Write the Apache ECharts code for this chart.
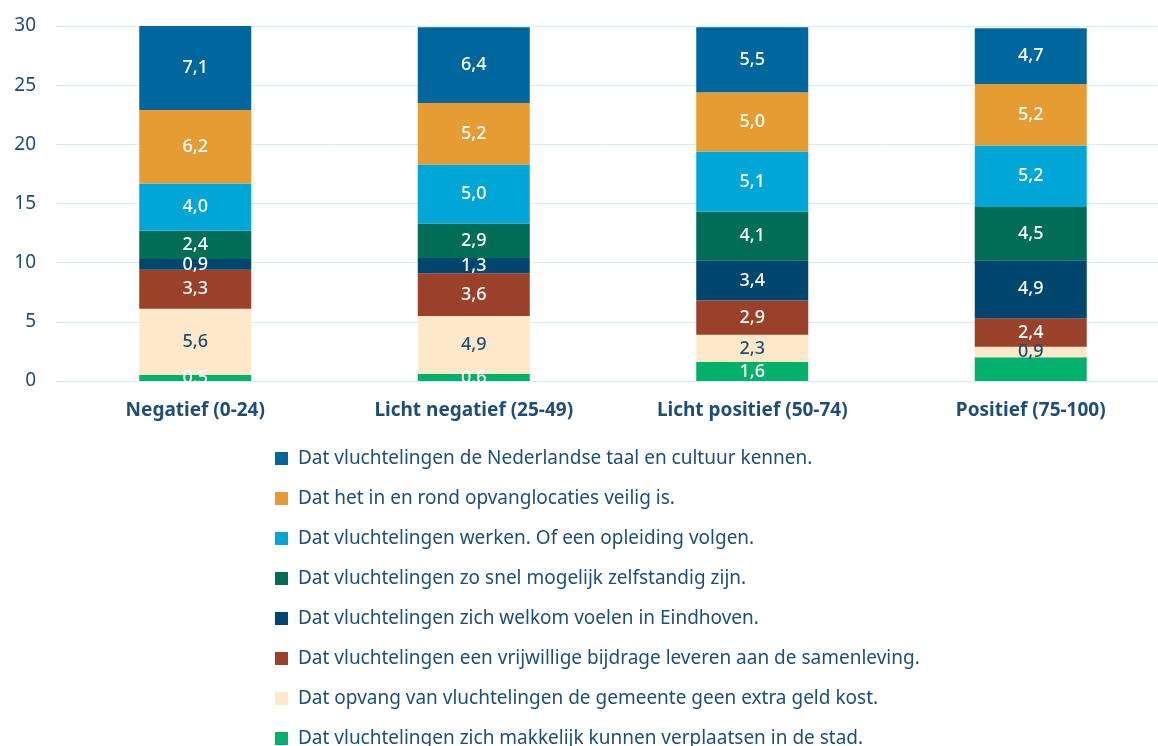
<!DOCTYPE html>
<html lang="nl">
	<head>
		<meta charset="UTF-8">
		<title></title>
		<style type="text/css">
			html,
			body {
				width: 100%;
				height: 100%;
				margin: 0;
				padding: 0;
				background: #fff;
			}

			#main {
				width: 1158px;
				height: 746px;
			}
		</style>
	</head>
	<body>
		<div id="main"></div>

		<script src="https://cdn.jsdelivr.net/npm/echarts@6/dist/echarts.min.js" type="text/javascript" charset="utf-8"></script>
		<script type="text/javascript">
			let categories = ['Negatief (0-24)', 'Licht negatief (25-49)', 'Licht positief (50-74)', 'Positief (75-100)'];
			let yTicks = [0, 5, 10, 15, 20, 25, 30];

			// van onder naar boven gestapeld
			let names = [
				'Dat vluchtelingen zich makkelijk kunnen verplaatsen in de stad.',
				'Dat opvang van vluchtelingen de gemeente geen extra geld kost.',
				'Dat vluchtelingen een vrijwillige bijdrage leveren aan de samenleving.',
				'Dat vluchtelingen zich welkom voelen in Eindhoven.',
				'Dat vluchtelingen zo snel mogelijk zelfstandig zijn.',
				'Dat vluchtelingen werken. Of een opleiding volgen.',
				'Dat het in en rond opvanglocaties veilig is.',
				'Dat vluchtelingen de Nederlandse taal en cultuur kennen.'
			];
			let verplaatsen = [0.5, 0.6, 1.6, 2.0];
			let geldKost = [5.6, 4.9, 2.3, 0.9];
			let bijdrage = [3.3, 3.6, 2.9, 2.4];
			let welkom = [0.9, 1.3, 3.4, 4.9];
			let zelfstandig = [2.4, 2.9, 4.1, 4.5];
			let werken = [4.0, 5.0, 5.1, 5.2];
			let veilig = [6.2, 5.2, 5.0, 5.2];
			let taal = [7.1, 6.4, 5.5, 4.7];
			// het label van dit segment staat niet in de grafiek
			let hiddenLabels = [[0, 3]];

			let values = [verplaatsen, geldKost, bijdrage, welkom, zelfstandig, werken, veilig, taal];
			let colors = ['#00b06b', '#fde9ca', '#9b4029', '#00466f', '#006e56', '#00a6d5', '#e59c33', '#00679e'];
			let textBlue = '#1e4e77';
			let font = '"Noto Sans", sans-serif';

			let series = values.map((arr, s) => {
				return {
					name: names[s],
					type: 'bar',
					stack: 'totaal',
					barWidth: 112,
					itemStyle: { color: colors[s] },
					label: {
						show: true,
						position: 'inside',
						color: s === 1 ? textBlue : '#fff',
						fontFamily: font,
						fontSize: 18,
						fontWeight: 500,
						formatter: p => p.value.toFixed(1).replace('.', ',')
					},
					data: arr.map((v, i) => {
						let hide = hiddenLabels.some(h => h[0] === s && h[1] === i);
						return hide ? { value: v, label: { show: false } } : v;
					})
				};
			});

			var myChart = echarts.init(document.getElementById('main'));
			var option = {
				animation: false,
				textStyle: { fontFamily: font },
				grid: {
					left: 56,
					top: 26,
					width: 1114,
					height: 355,
					outerBoundsMode: 'none'
				},
				legend: {
					orient: 'vertical',
					left: 270,
					top: 444,
					height: 360,
					itemWidth: 13,
					itemHeight: 13,
					itemGap: 21,
					icon: 'rect',
					data: names.slice().reverse(),
					textStyle: {
						color: textBlue,
						fontFamily: font,
						fontSize: 19,
						padding: [0, 0, 0, 5]
					}
				},
				xAxis: {
					type: 'category',
					data: categories,
					axisLine: { show: false },
					axisTick: { show: false },
					axisLabel: {
						color: textBlue,
						fontFamily: font,
						fontSize: 19,
						fontWeight: 'bold',
						margin: 20
					}
				},
				yAxis: {
					type: 'value',
					min: yTicks[0],
					max: yTicks[yTicks.length - 1],
					interval: 5,
					axisLine: { show: false },
					axisTick: { show: false },
					axisLabel: {
						color: textBlue,
						fontFamily: font,
						fontSize: 19,
						margin: 20
					},
					splitLine: {
						lineStyle: { color: '#d4eef9', width: 1 }
					}
				},
				series
			};

			myChart.setOption(option);
		</script>
	</body>
</html>
